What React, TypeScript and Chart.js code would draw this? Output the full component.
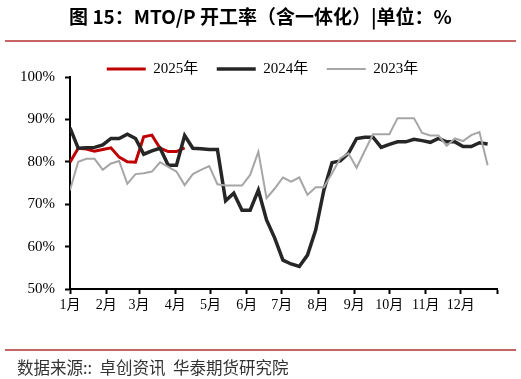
import React, { useEffect, useRef } from "react";
import { Chart, registerables } from "chart.js";

Chart.register(...registerables);

const monthLabels = ["1月", "2月", "3月", "4月", "5月", "6月", "7月", "8月", "9月", "10月", "11月", "12月", ""];
const monthStartDays = [0, 31, 59, 90, 120, 151, 181, 212, 243, 273, 304, 334, 365];

const series2025 = [79.9, 83.2, 83.0, 82.5, 82.9, 83.3, 81.1, 80.0, 79.9, 85.9, 86.3, 83.2, 82.4, 82.4, 83.3];

const series2024 = [
  88.0, 83.2, 83.3, 83.4, 84.0, 85.5, 85.5, 86.5, 85.5, 81.8, 82.6, 83.2, 79.2, 79.2, 86.2, 83.2, 83.1, 82.9, 82.9,
  70.8, 72.6, 68.6, 68.6, 73.3, 66.3, 62.0, 56.8, 55.9, 55.3, 58.0, 63.9, 73.3, 79.8, 80.2, 82.0, 85.5, 85.8, 85.8,
  83.4, 84.1, 84.7, 84.7, 85.3, 85.0, 84.6, 85.5, 84.7, 84.7, 83.6, 83.6, 84.5, 84.2,
];

const series2023 = [
  73.3, 80.0, 80.7, 80.7, 78.1, 79.6, 80.2, 74.8, 77.1, 77.3, 77.7, 79.9, 78.8, 77.7, 74.5, 77.1, 78.1, 79.0, 74.7,
  74.4, 74.4, 74.4, 76.9, 82.4, 71.4, 73.7, 76.3, 75.3, 76.3, 72.2, 74.0, 74.0, 77.3, 80.8, 82.0, 78.6, 82.6, 86.5,
  86.5, 86.5, 90.3, 90.3, 90.3, 86.8, 86.2, 86.2, 83.8, 85.5, 84.9, 86.3, 87.0, 79.2,
];

const seriesNames = ["2025年", "2024年", "2023年"];
const seriesColors = ["#c00000", "#262626", "#a6a6a6"];

const toPoints = (arr: number[]) => arr.map((v, i) => ({ x: i, y: v }));

const legendShift = {
  id: "legendShift",
  afterLayout(chart: any) {
    const l = chart.legend;
    if (l) {
      l.left += 4;
      l.right += 4;
    }
  },
};

export default function App() {
  const ref = useRef<HTMLCanvasElement | null>(null);

  useEffect(() => {
    if (!ref.current) return;
    const serif = '"Liberation Serif", "Times New Roman", "Noto Sans CJK SC", serif';
    const chart = new Chart(ref.current, {
      type: "line",
      data: {
        datasets: [
          {
            label: seriesNames[0],
            data: toPoints(series2025),
            borderColor: seriesColors[0],
            backgroundColor: seriesColors[0],
            borderWidth: 3,
            pointRadius: 0,
            tension: 0,
            order: 2,
          },
          {
            label: seriesNames[1],
            data: toPoints(series2024),
            borderColor: seriesColors[1],
            backgroundColor: seriesColors[1],
            borderWidth: 3.5,
            pointRadius: 0,
            tension: 0,
            order: 1,
          },
          {
            label: seriesNames[2],
            data: toPoints(series2023),
            borderColor: seriesColors[2],
            backgroundColor: seriesColors[2],
            borderWidth: 2,
            pointRadius: 0,
            tension: 0,
            order: 0,
          },
        ],
      },
      options: {
        animation: false,
        responsive: false,
        maintainAspectRatio: false,
        layout: { padding: { top: 43, left: 20, right: 24, bottom: 65 } },
        plugins: {
          tooltip: { enabled: false },
          legend: {
            position: "top",
            maxHeight: 34,
            labels: {
              usePointStyle: true,
              pointStyle: "line",
              pointStyleWidth: 39,
              boxHeight: 15,
              padding: 18.5,
              color: "#000",
              font: { family: serif, size: 15 },
              sort: (a: any, b: any) => a.datasetIndex - b.datasetIndex,
            },
          },
        },
        scales: {
          x: {
            type: "linear",
            min: 0,
            max: 365 / 7,
            afterBuildTicks: (scale: any) => {
              scale.ticks = monthStartDays.map((d) => ({ value: d / 7 }));
            },
            afterFit: (scale: any) => {
              scale.height = 25;
            },
            ticks: {
              autoSkip: false,
              maxRotation: 0,
              padding: 3,
              color: "#000",
              font: { family: serif, size: 14 },
              callback: (_v: any, i: number) => monthLabels[i] ?? "",
            },
            grid: { drawOnChartArea: false, color: "#000", tickLength: 5, tickWidth: 2 },
            border: { display: true, color: "#000", width: 2 },
          },
          y: {
            min: 50,
            max: 100,
            afterFit: (scale: any) => {
              scale.width = 50;
            },
            ticks: {
              stepSize: 10,
              padding: 10,
              color: "#000",
              font: { family: serif, size: 15 },
              callback: (v: any) => `${v}%`,
            },
            grid: { drawOnChartArea: false, color: "#000", tickLength: 5, tickWidth: 2 },
            border: { display: true, color: "#000", width: 2 },
          },
        },
      },
      plugins: [legendShift],
    } as any);
    return () => chart.destroy();
  }, []);

  return (
    <div style={{ position: "fixed", left: 0, top: 0, width: 521, height: 379, background: "#fff", overflow: "hidden" }}>
      <canvas ref={ref} width={521} height={379} style={{ position: "absolute", left: 0, top: 0, width: 521, height: 379 }} />
      <div
        style={{
          position: "absolute",
          left: 0,
          top: 3,
          width: 521,
          textAlign: "center",
          fontFamily: '"Noto Sans CJK SC", sans-serif',
          fontWeight: 700,
          fontSize: 19,
          lineHeight: "26px",
          color: "#000",
          whiteSpace: "nowrap",
        }}
      >
        图 15：MTO/P 开工率（含一体化）|单位：%
      </div>
      <div style={{ position: "absolute", left: 5, top: 40, width: 511, height: 2, background: "#c86464" }} />
      <div style={{ position: "absolute", left: 5, top: 349, width: 511, height: 2, background: "#c86464" }} />
      <div
        style={{
          position: "absolute",
          left: 17,
          top: 356,
          fontFamily: '"Noto Sans CJK SC", sans-serif',
          fontSize: 16.5,
          lineHeight: "22px",
          color: "#333",
          whiteSpace: "pre",
        }}
      >
        {"数据来源::  卓创资讯  华泰期货研究院"}
      </div>
    </div>
  );
}
